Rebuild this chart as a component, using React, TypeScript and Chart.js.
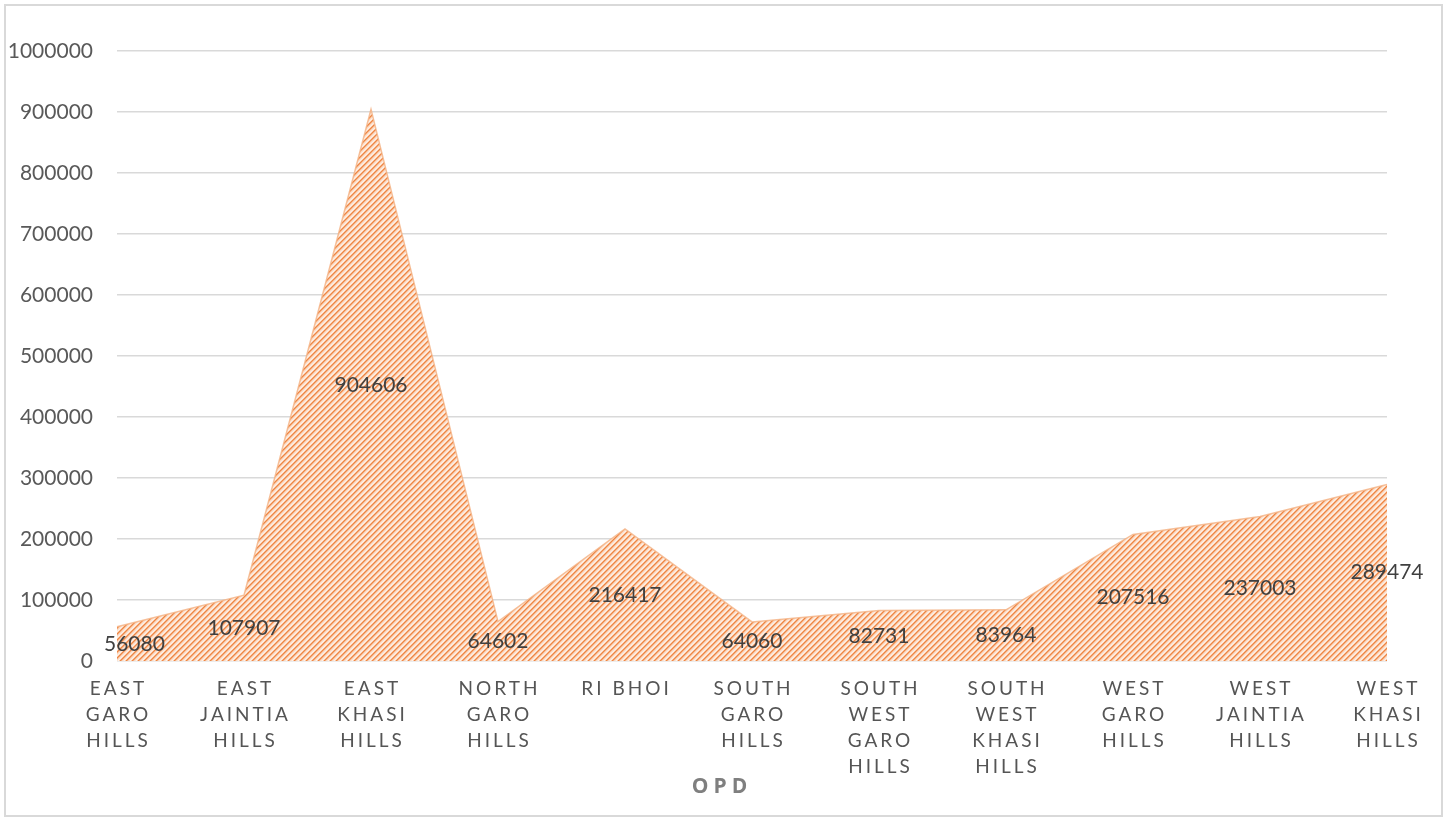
import React, { useEffect, useRef } from 'react';
import { Chart, registerables } from 'chart.js';

Chart.register(...registerables);

const categories: string[][] = [
  ['EAST', 'GARO', 'HILLS'],
  ['EAST', 'JAINTIA', 'HILLS'],
  ['EAST', 'KHASI', 'HILLS'],
  ['NORTH', 'GARO', 'HILLS'],
  ['RI BHOI'],
  ['SOUTH', 'GARO', 'HILLS'],
  ['SOUTH', 'WEST', 'GARO', 'HILLS'],
  ['SOUTH', 'WEST', 'KHASI', 'HILLS'],
  ['WEST', 'GARO', 'HILLS'],
  ['WEST', 'JAINTIA', 'HILLS'],
  ['WEST', 'KHASI', 'HILLS'],
];

const opdValues: number[] = [56080, 107907, 904606, 64602, 216417, 64060, 82731, 83964, 207516, 237003, 289474];

const yTickValues: number[] = [0, 100000, 200000, 300000, 400000, 500000, 600000, 700000, 800000, 900000, 1000000];

const axisTitle = 'OPD';

function makePattern(ctx: CanvasRenderingContext2D): CanvasPattern | string {
  const size = 6;
  const c = document.createElement('canvas');
  c.width = size;
  c.height = size;
  const pc = c.getContext('2d');
  if (!pc) return '#f4b183';
  const colors = ['#ee8644', '#f5a978', '#fad6bd', '#fce3d2', '#fef2e9', '#f9c9a8'];
  for (let x = 0; x < size; x++) {
    for (let y = 0; y < size; y++) {
      pc.fillStyle = colors[(x + y) % size];
      pc.fillRect(x, y, 1, 1);
    }
  }
  return ctx.createPattern(c, 'repeat') || '#f4b183';
}

const decorPlugin = {
  id: 'decor',
  beforeDraw(chart: any) {
    const ctx = chart.ctx as CanvasRenderingContext2D;
    ctx.save();
    ctx.fillStyle = '#ffffff';
    ctx.fillRect(0, 0, chart.width, chart.height);
    ctx.strokeStyle = '#d9d9d9';
    ctx.lineWidth = 2;
    ctx.strokeRect(5, 5, chart.width - 10, chart.height - 10);
    ctx.restore();
  },
  afterDatasetsDraw(chart: any) {
    const ctx = chart.ctx as CanvasRenderingContext2D;
    const xs = chart.scales.x;
    const ys = chart.scales.y;
    const area = chart.chartArea;
    ctx.save();
    ctx.font = '21px Lato';
    ctx.fillStyle = '#404040';
    ctx.textAlign = 'center';
    ctx.textBaseline = 'middle';
    opdValues.forEach((v, i) => {
      const text = String(v);
      const w = ctx.measureText(text).width;
      let px = xs.getPixelForValue(i);
      const minLeft = area.left - 13;
      if (px - w / 2 < minLeft) px = minLeft + w / 2;
      const py = ys.getPixelForValue(v / 2);
      ctx.fillText(text, px, py);
    });
    ctx.restore();
  },
  afterDraw(chart: any) {
    const ctx = chart.ctx as CanvasRenderingContext2D;
    const xs = chart.scales.x;
    const area = chart.chartArea;
    ctx.save();
    ctx.textAlign = 'center';
    ctx.textBaseline = 'middle';
    ctx.font = '19px Lato';
    ctx.fillStyle = '#555555';
    const sp = 3;
    (ctx as any).letterSpacing = sp + 'px';
    categories.forEach((lines, i) => {
      const px = xs.getPixelForValue(i) + sp / 2;
      lines.forEach((ln, j) => {
        ctx.fillText(ln, px, area.bottom + 28 + j * 26);
      });
    });
    ctx.font = 'bold 21px "Open Sans"';
    ctx.fillStyle = '#7f7f7f';
    const tsp = 5;
    (ctx as any).letterSpacing = tsp + 'px';
    ctx.fillText(axisTitle, chart.width / 2 - 4 + tsp / 2, area.bottom + 126);
    (ctx as any).letterSpacing = '0px';
    ctx.restore();
  },
};

export default function App() {
  const canvasRef = useRef<HTMLCanvasElement | null>(null);

  useEffect(() => {
    const canvas = canvasRef.current;
    if (!canvas) return;
    const ctx = canvas.getContext('2d');
    if (!ctx) return;
    const pattern = makePattern(ctx);
    const chart = new Chart(canvas, {
      type: 'line',
      data: {
        labels: categories.map((c) => c.join(' ')),
        datasets: [
          {
            label: axisTitle,
            data: opdValues,
            fill: 'origin',
            backgroundColor: pattern as any,
            borderColor: 'rgba(244,177,131,0.8)',
            borderWidth: 1.5,
            pointRadius: 0,
            tension: 0,
          },
        ],
      },
      options: {
        responsive: false,
        animation: false,
        events: [],
        layout: { padding: { top: 51, right: 60, bottom: 0, left: 0 } },
        plugins: {
          legend: { display: false },
          title: { display: false },
          tooltip: { enabled: false },
        },
        scales: {
          x: {
            type: 'category',
            offset: false,
            grid: { display: false },
            border: { display: false },
            ticks: { display: false },
            afterFit: (s: any) => {
              s.height = 160;
            },
          },
          y: {
            min: 0,
            max: 1000000,
            grid: { color: '#d9d9d9', lineWidth: 1.5, drawTicks: false },
            border: { display: false },
            afterBuildTicks: (s: any) => {
              s.ticks = yTickValues.map((v) => ({ value: v }));
            },
            ticks: {
              padding: 24,
              color: '#595959',
              font: { family: 'Lato', size: 21 },
              callback: (v: any) => String(v),
            },
            afterFit: (s: any) => {
              s.width = 117;
            },
          },
        },
      },
      plugins: [decorPlugin],
    });
    return () => chart.destroy();
  }, []);

  return (
    <div style={{ position: 'absolute', left: 0, top: 0, width: 1447, height: 821, background: '#fff' }}>
      <canvas ref={canvasRef} width={1447} height={821} style={{ display: 'block' }} />
    </div>
  );
}
